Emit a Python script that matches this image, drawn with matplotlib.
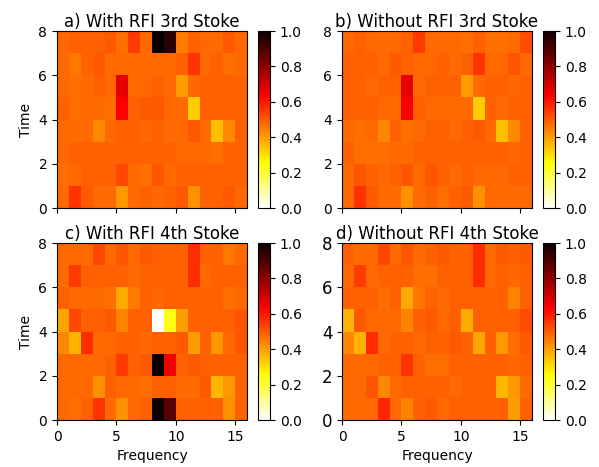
import numpy as np
import matplotlib
matplotlib.use("Agg")
import matplotlib.pyplot as plt

# normalised stokes maps, 8 time rows (listed from top, t=7..8 first) x 16 freq channels
a_with_rfi_3rd = [
    [0.48, 0.49, 0.49, 0.49, 0.50, 0.47, 0.55, 0.48, 1.00, 0.95, 0.45, 0.49, 0.48, 0.48, 0.50, 0.48],
    [0.48, 0.46, 0.49, 0.50, 0.48, 0.48, 0.48, 0.48, 0.48, 0.48, 0.49, 0.56, 0.48, 0.49, 0.47, 0.48],
    [0.48, 0.47, 0.48, 0.49, 0.48, 0.67, 0.48, 0.48, 0.49, 0.48, 0.40, 0.48, 0.49, 0.49, 0.49, 0.49],
    [0.49, 0.47, 0.48, 0.48, 0.47, 0.64, 0.49, 0.50, 0.50, 0.48, 0.48, 0.33, 0.49, 0.49, 0.49, 0.49],
    [0.48, 0.48, 0.48, 0.43, 0.48, 0.49, 0.49, 0.48, 0.49, 0.48, 0.48, 0.50, 0.48, 0.35, 0.43, 0.49],
    [0.48, 0.49, 0.49, 0.49, 0.49, 0.49, 0.49, 0.49, 0.49, 0.49, 0.48, 0.48, 0.48, 0.47, 0.49, 0.49],
    [0.47, 0.48, 0.49, 0.49, 0.49, 0.53, 0.48, 0.47, 0.51, 0.48, 0.49, 0.49, 0.49, 0.49, 0.49, 0.49],
    [0.48, 0.56, 0.50, 0.48, 0.48, 0.41, 0.48, 0.49, 0.48, 0.49, 0.50, 0.42, 0.49, 0.49, 0.50, 0.48],
]
b_without_rfi_3rd = [
    [0.48, 0.49, 0.48, 0.48, 0.48, 0.49, 0.55, 0.48, 0.48, 0.48, 0.47, 0.49, 0.47, 0.47, 0.48, 0.52],
    [0.49, 0.49, 0.49, 0.48, 0.50, 0.49, 0.48, 0.48, 0.49, 0.48, 0.49, 0.56, 0.48, 0.48, 0.51, 0.48],
    [0.49, 0.49, 0.48, 0.49, 0.49, 0.67, 0.48, 0.49, 0.49, 0.49, 0.40, 0.48, 0.49, 0.49, 0.48, 0.49],
    [0.49, 0.49, 0.49, 0.48, 0.48, 0.64, 0.49, 0.48, 0.48, 0.48, 0.48, 0.33, 0.49, 0.48, 0.49, 0.49],
    [0.48, 0.47, 0.48, 0.43, 0.49, 0.47, 0.48, 0.49, 0.49, 0.48, 0.49, 0.50, 0.48, 0.35, 0.43, 0.49],
    [0.49, 0.47, 0.47, 0.47, 0.48, 0.48, 0.49, 0.49, 0.49, 0.49, 0.49, 0.49, 0.49, 0.49, 0.48, 0.49],
    [0.48, 0.51, 0.49, 0.48, 0.49, 0.51, 0.48, 0.51, 0.49, 0.48, 0.49, 0.48, 0.48, 0.48, 0.49, 0.49],
    [0.48, 0.56, 0.50, 0.48, 0.48, 0.42, 0.48, 0.49, 0.47, 0.49, 0.50, 0.42, 0.48, 0.48, 0.48, 0.48],
]
c_with_rfi_4th = [
    [0.48, 0.48, 0.48, 0.53, 0.48, 0.51, 0.48, 0.50, 0.49, 0.49, 0.49, 0.57, 0.49, 0.49, 0.46, 0.48],
    [0.48, 0.55, 0.49, 0.49, 0.49, 0.49, 0.48, 0.49, 0.49, 0.49, 0.49, 0.57, 0.48, 0.49, 0.49, 0.49],
    [0.49, 0.48, 0.48, 0.48, 0.47, 0.38, 0.45, 0.49, 0.48, 0.49, 0.49, 0.49, 0.49, 0.49, 0.47, 0.48],
    [0.39, 0.53, 0.49, 0.49, 0.50, 0.44, 0.49, 0.49, 0.00, 0.24, 0.40, 0.49, 0.49, 0.49, 0.49, 0.51],
    [0.43, 0.37, 0.57, 0.48, 0.48, 0.49, 0.49, 0.48, 0.49, 0.49, 0.50, 0.40, 0.49, 0.41, 0.48, 0.51],
    [0.48, 0.48, 0.48, 0.48, 0.49, 0.55, 0.49, 0.50, 1.00, 0.65, 0.49, 0.50, 0.49, 0.49, 0.49, 0.49],
    [0.48, 0.48, 0.48, 0.42, 0.49, 0.48, 0.48, 0.47, 0.49, 0.49, 0.48, 0.48, 0.50, 0.36, 0.41, 0.49],
    [0.48, 0.47, 0.49, 0.56, 0.48, 0.42, 0.48, 0.49, 1.00, 0.88, 0.49, 0.49, 0.49, 0.49, 0.42, 0.49],
]
d_without_rfi_4th = [
    [0.49, 0.48, 0.48, 0.53, 0.48, 0.51, 0.48, 0.49, 0.50, 0.49, 0.49, 0.57, 0.48, 0.50, 0.49, 0.50],
    [0.48, 0.55, 0.48, 0.49, 0.49, 0.49, 0.47, 0.47, 0.49, 0.49, 0.49, 0.57, 0.48, 0.49, 0.48, 0.49],
    [0.49, 0.49, 0.49, 0.47, 0.49, 0.38, 0.46, 0.49, 0.48, 0.49, 0.49, 0.49, 0.49, 0.49, 0.44, 0.49],
    [0.37, 0.50, 0.48, 0.48, 0.48, 0.44, 0.49, 0.50, 0.48, 0.49, 0.38, 0.49, 0.49, 0.49, 0.49, 0.52],
    [0.43, 0.37, 0.57, 0.48, 0.49, 0.49, 0.48, 0.49, 0.49, 0.50, 0.49, 0.39, 0.49, 0.41, 0.47, 0.50],
    [0.48, 0.48, 0.48, 0.49, 0.49, 0.56, 0.49, 0.47, 0.47, 0.49, 0.49, 0.49, 0.49, 0.49, 0.48, 0.49],
    [0.48, 0.48, 0.51, 0.43, 0.48, 0.49, 0.49, 0.49, 0.49, 0.48, 0.49, 0.49, 0.49, 0.36, 0.41, 0.48],
    [0.48, 0.48, 0.48, 0.58, 0.48, 0.44, 0.49, 0.50, 0.48, 0.49, 0.49, 0.49, 0.49, 0.49, 0.40, 0.49],
]

titles = ["a) With RFI 3rd Stoke", "b) Without RFI 3rd Stoke",
          "c) With RFI 4th Stoke", "d) Without RFI 4th Stoke"]
maps = [a_with_rfi_3rd, b_without_rfi_3rd, c_with_rfi_4th, d_without_rfi_4th]

freq_edges = np.arange(17)
time_edges = np.arange(9)

fig = plt.figure(figsize=(5.99, 4.67), dpi=100)

# axes positions in figure fraction (left, bottom)
lefts = [0.0952, 0.571, 0.0952, 0.571]
bottoms = [0.5546, 0.5546, 0.1006, 0.1006]
cb_lefts = [0.4307, 0.9065, 0.4307, 0.9065]
w, h = 0.3172, 0.379

for i in range(4):
    ax = fig.add_axes([lefts[i], bottoms[i], w, h])
    data = np.flipud(np.array(maps[i]))  # bottom row first
    mesh = ax.pcolormesh(freq_edges, time_edges, data, cmap="hot_r", vmin=0, vmax=1)
    ax.set_xlim(0, 16)
    ax.set_ylim(0, 8)
    ax.set_xticks([0, 5, 10, 15])
    ax.set_yticks([0, 2, 4, 6, 8])
    ax.set_title(titles[i], fontsize=12, pad=3)
    if i < 2:
        ax.set_xticklabels([])
    else:
        ax.set_xlabel("Frequency")
    if i in (0, 2):
        ax.set_ylabel("Time")
    if i == 3:
        ax.tick_params(axis="y", labelsize=12)
    cax = fig.add_axes([cb_lefts[i], bottoms[i], 0.02, h])
    cb = fig.colorbar(mesh, cax=cax)
    cb.set_ticks([0.0, 0.2, 0.4, 0.6, 0.8, 1.0])

fig.savefig("out.png", dpi=100)
